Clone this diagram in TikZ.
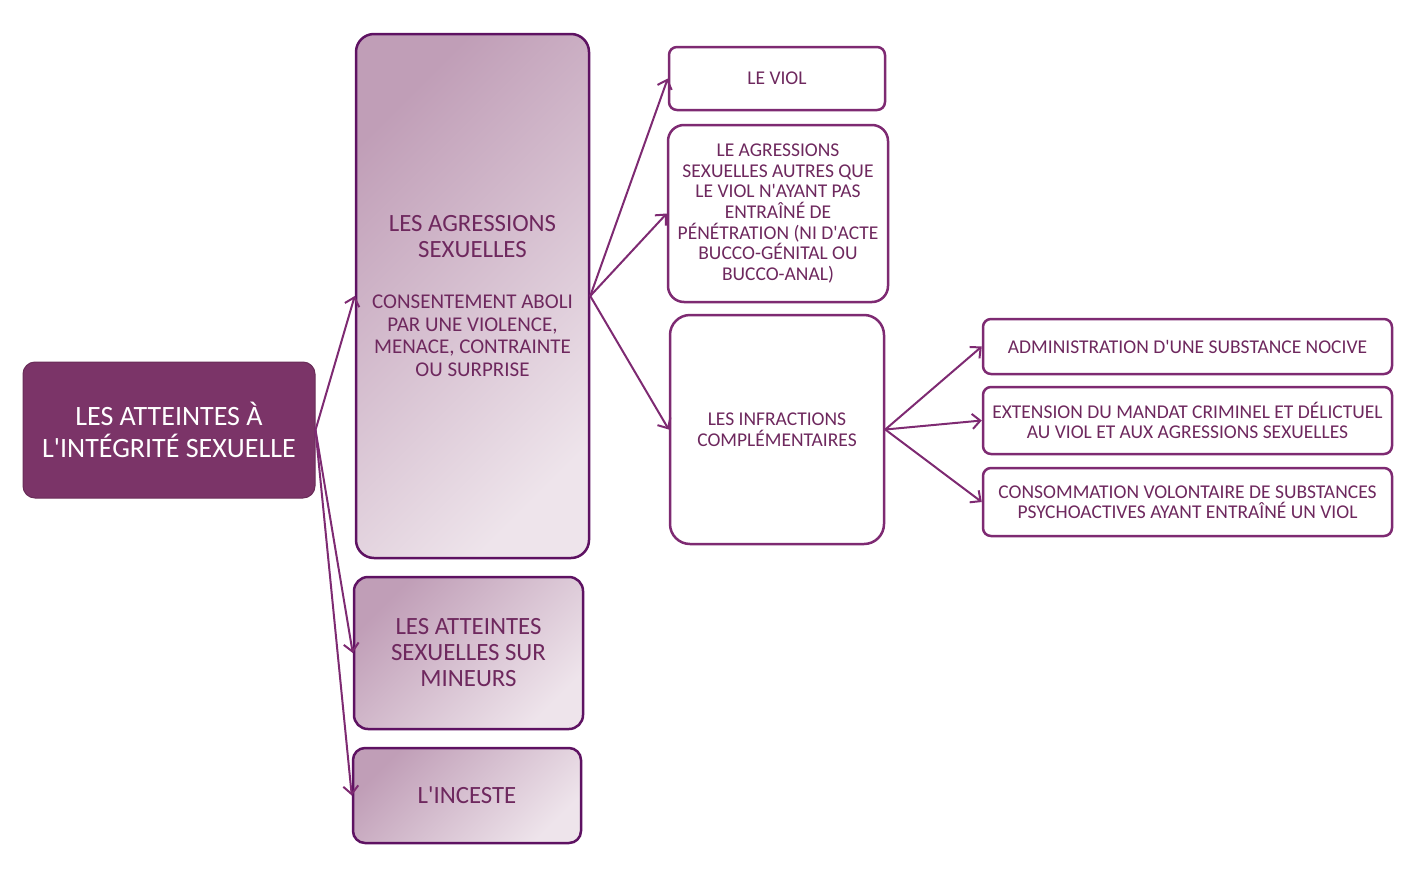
\documentclass[tikz,border=0pt]{standalone}
\usepackage{fontspec}
\setmainfont{Carlito}
\usetikzlibrary{arrows.meta}
\definecolor{plum}{RGB}{123,52,104}
\definecolor{plumtext}{RGB}{110,40,94}
\definecolor{plumline}{RGB}{126,42,114}
\definecolor{plumedge}{RGB}{94,18,98}
\definecolor{mauvedark}{RGB}{192,158,183}
\definecolor{mauvelight}{RGB}{238,228,235}
\newcommand\apos{\textquotesingle}

\begin{document}
\begin{tikzpicture}
[x=1pt,y=-1pt
,box/.style={draw=plumline,line width=2.5pt,rounded corners=8pt,inner sep=0pt,align=center,text=plumtext}
,root/.style={box,fill=plum,draw=plum!85!black,line width=1pt,rounded corners=12pt,text=white,font=\fontsize{28}{32}\selectfont}
,cat/.style={box,draw=plumedge,rounded corners=18pt,top color=mauvedark,bottom color=mauvelight,shading angle=45,font=\fontsize{24.8}{26}\selectfont}
,leaf/.style={box,fill=white,font=\fontsize{19.5}{20.6}\selectfont}
,be/.style={draw=plumline,line width=2pt,arrows={-Straight Barb[length=8pt,width=15pt]}}
]
\useasboundingbox (0,0) rectangle (1418,870);
\node[root,minimum width=292pt,minimum height=136pt] (atteintes) at (169,430) {LES ATTEINTES À\\L\apos INTÉGRITÉ SEXUELLE};
\node[cat,minimum width=233pt,minimum height=524pt] (agressions) at (472.5,296)
  {LES AGRESSIONS\\SEXUELLES\\[25pt]
   \fontsize{21}{23}\selectfont CONSENTEMENT ABOLI\\[-3.3pt]\fontsize{21}{23}\selectfont PAR UNE VIOLENCE,\\[-3.3pt]
   \fontsize{21}{23}\selectfont MENACE, CONTRAINTE\\[-3.3pt]\fontsize{21}{23}\selectfont OU SURPRISE};
\node[cat,rounded corners=14pt,minimum width=229pt,minimum height=152pt] (mineurs) at (468.5,653) {LES ATTEINTES\\SEXUELLES SUR\\MINEURS};
\node[cat,rounded corners=12pt,minimum width=228pt,minimum height=95pt] (inceste) at (467,795.5) {L\apos INCESTE};
\node[leaf,minimum width=216pt,minimum height=63pt] (viol) at (777,78.5) {LE VIOL};
\node[leaf,rounded corners=16pt,minimum width=220pt,minimum height=177pt] (autres) at (778,213.5)
  {LE AGRESSIONS\\SEXUELLES AUTRES QUE\\LE VIOL N\apos AYANT PAS\\ENTRAÎNÉ DE\\PÉNÉTRATION (NI D\apos ACTE\\BUCCO-GÉNITAL OU\\BUCCO-ANAL)};
\node[leaf,rounded corners=20pt,minimum width=214pt,minimum height=229pt] (complementaires) at (777,429.5) {LES INFRACTIONS\\COMPLÉMENTAIRES};
\node[leaf,minimum width=409pt,minimum height=55pt] (substance) at (1187.5,346.5) {ADMINISTRATION D\apos UNE SUBSTANCE NOCIVE};
\node[leaf,minimum width=409pt,minimum height=67pt,font=\fontsize{19.5}{20}\selectfont] (mandat) at (1187.5,420.5) {EXTENSION DU MANDAT CRIMINEL ET DÉLICTUEL\\AU VIOL ET AUX AGRESSIONS SEXUELLES};
\node[leaf,minimum width=409pt,minimum height=68pt,font=\fontsize{19.5}{20}\selectfont] (consommation) at (1187.5,502) {CONSOMMATION VOLONTAIRE DE SUBSTANCES\\PSYCHOACTIVES AYANT ENTRAÎNÉ UN VIOL};
\draw[be] (atteintes.east) -- (agressions.west);
\draw[be] (atteintes.east) -- (mineurs.west);
\draw[be] (atteintes.east) -- (inceste.west);
\draw[be] (agressions.east) -- (viol.west);
\draw[be] (agressions.east) -- (autres.west);
\draw[be] (agressions.east) -- (complementaires.west);
\draw[be] (complementaires.east) -- (substance.west);
\draw[be] (complementaires.east) -- (mandat.west);
\draw[be] (complementaires.east) -- (consommation.west);
\end{tikzpicture}
\end{document}
